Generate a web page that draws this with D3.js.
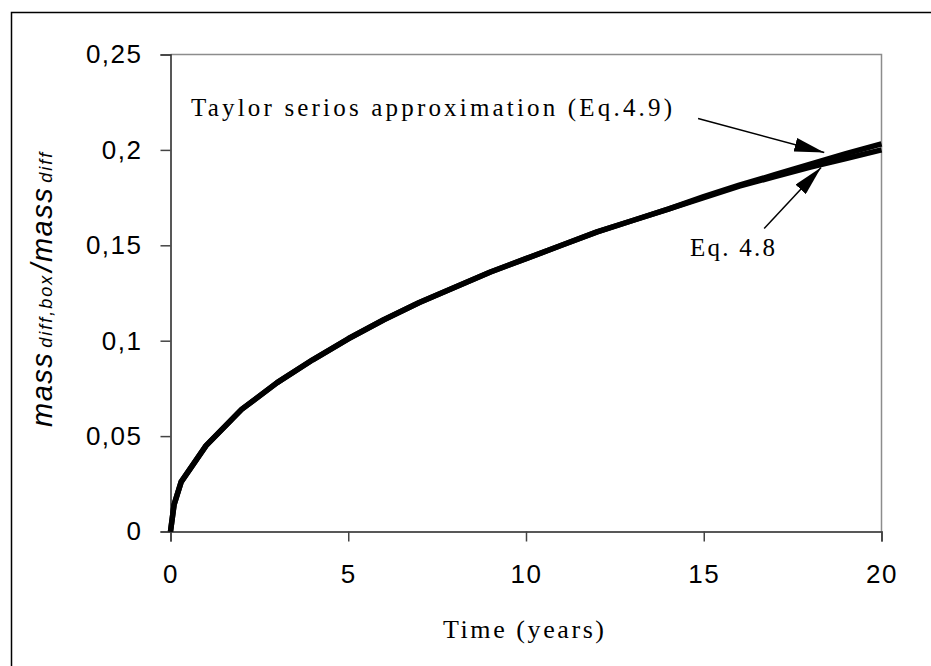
<html>
<head>
<style>
  body { margin: 0; background: #fff; }
  .tick text { font-family: "Liberation Sans", Arial, sans-serif; fill: #000; }
  .serif { font-family: "Liberation Serif", "Times New Roman", serif; fill: #000; }
</style>
</head>
<body>
<svg id="chart" width="931" height="666"></svg>
<script src="https://cdn.jsdelivr.net/npm/d3@7"></script>
<script>
// time in years
let years = [0, 0.1, 0.3, 1, 2, 3, 4, 5, 6, 7, 8, 9, 10, 11, 12, 13, 14, 15, 16, 17, 18, 19, 20]
// Eq. 4.8
let eq48 = [0, 0.014, 0.026, 0.045, 0.064, 0.078, 0.090, 0.101, 0.111, 0.120, 0.128, 0.136,
            0.143, 0.150, 0.157, 0.163, 0.169, 0.175, 0.181, 0.186, 0.191, 0.1955, 0.200]
// Taylor series approximation (Eq.4.9)
let taylor = [0, 0.014, 0.026, 0.045, 0.064, 0.078, 0.090, 0.101, 0.111, 0.120, 0.128, 0.136,
              0.143, 0.150, 0.157, 0.163, 0.169, 0.1755, 0.1815, 0.187, 0.1925, 0.198, 0.2032]
let xTicks = [0, 5, 10, 15, 20]
let yTicks = [0, 0.05, 0.1, 0.15, 0.2, 0.25]

let svg = d3.select("#chart")

// outer frame
svg.append("path")
   .attr("d", "M11.5,666 L11.5,12.5 L931,12.5")
   .attr("fill", "none").attr("stroke", "#000").attr("stroke-width", 1.5)

let x = d3.scaleLinear().domain([0, 20]).range([170.5, 881.5])
let y = d3.scaleLinear().domain([0, 0.25]).range([531.5, 54.5])

// plot area: grey top/right, black axes
svg.append("path")
   .attr("d", `M${x(0)},${y(0.25)} L${x(20)},${y(0.25)} L${x(20)},${y(0)}`)
   .attr("fill", "none").attr("stroke", "#8c8c8c").attr("stroke-width", 1.5)

let yAxis = svg.append("g")
   .attr("transform", `translate(${x(0)},0)`)
   .call(d3.axisLeft(y).tickValues(yTicks).tickSize(10).tickPadding(18)
           .tickFormat(d => String(d).replace(".", ",")))
let xAxis = svg.append("g")
   .attr("transform", `translate(0,${y(0)})`)
   .call(d3.axisBottom(x).tickValues(xTicks).tickSize(10).tickPadding(23))

svg.selectAll(".domain").attr("stroke", "#222").attr("stroke-width", 1.5)
svg.selectAll(".tick line").attr("stroke", "#444").attr("stroke-width", 1.5)
svg.selectAll(".tick text").attr("font-size", 26).style("letter-spacing", "1.5px")

// curves
let line = d3.line().x((d, i) => x(years[i])).y(d => y(d))
svg.append("path").datum(eq48).attr("d", line)
   .attr("fill", "none").attr("stroke", "#000").attr("stroke-width", 5.5)
   .attr("stroke-linejoin", "round")
svg.append("path").datum(taylor).attr("d", line)
   .attr("fill", "none").attr("stroke", "#000").attr("stroke-width", 5.5)
   .attr("stroke-linejoin", "round")

// arrows
svg.append("defs").append("marker")
   .attr("id", "head").attr("viewBox", "0 0 30 14")
   .attr("refX", 30).attr("refY", 7)
   .attr("markerWidth", 30).attr("markerHeight", 14)
   .attr("markerUnits", "userSpaceOnUse").attr("orient", "auto")
   .append("path").attr("d", "M0,0 L30,7 L0,14 Z").attr("fill", "#000")

let arrows = [
  {x1: 14.84, y1: 0.2165, x2: 18.39, y2: 0.1986},
  {x1: 16.7, y1: 0.1588, x2: 18.3, y2: 0.1908}
]
svg.selectAll(".arrow").data(arrows).enter().append("line")
   .attr("class", "arrow")
   .attr("x1", d => x(d.x1)).attr("y1", d => y(d.y1))
   .attr("x2", d => x(d.x2)).attr("y2", d => y(d.y2))
   .attr("stroke", "#000").attr("stroke-width", 1.5)
   .attr("marker-end", "url(#head)")

// annotation texts
svg.append("text").attr("class", "serif")
   .attr("x", 191).attr("y", 116).attr("font-size", 25)
   .attr("textLength", 481).attr("lengthAdjust", "spacing")
   .text("Taylor serios approximation (Eq.4.9)")
svg.append("text").attr("class", "serif")
   .attr("x", 690).attr("y", 256).attr("font-size", 25)
   .attr("textLength", 85).attr("lengthAdjust", "spacing")
   .text("Eq. 4.8")
svg.append("text").attr("class", "serif")
   .attr("x", 443).attr("y", 638).attr("font-size", 26)
   .attr("textLength", 161).attr("lengthAdjust", "spacing")
   .text("Time (years)")

// y axis title
let yt = svg.append("text")
   .attr("transform", "translate(52,427) rotate(-90)")
   .attr("font-family", "Liberation Sans, Arial, sans-serif")
   .attr("font-style", "italic").attr("fill", "#000")
   .style("letter-spacing", "1.5px")
yt.append("tspan").attr("font-size", 29).text("mass")
yt.append("tspan").attr("font-size", 18).attr("dx", 4).style("letter-spacing", "2px").text("diff,box")
yt.append("tspan").attr("font-size", 29).attr("dx", 2).text("/mass")
yt.append("tspan").attr("font-size", 18).attr("dx", 4).style("letter-spacing", "2px").text("diff")
</script>
</body>
</html>
